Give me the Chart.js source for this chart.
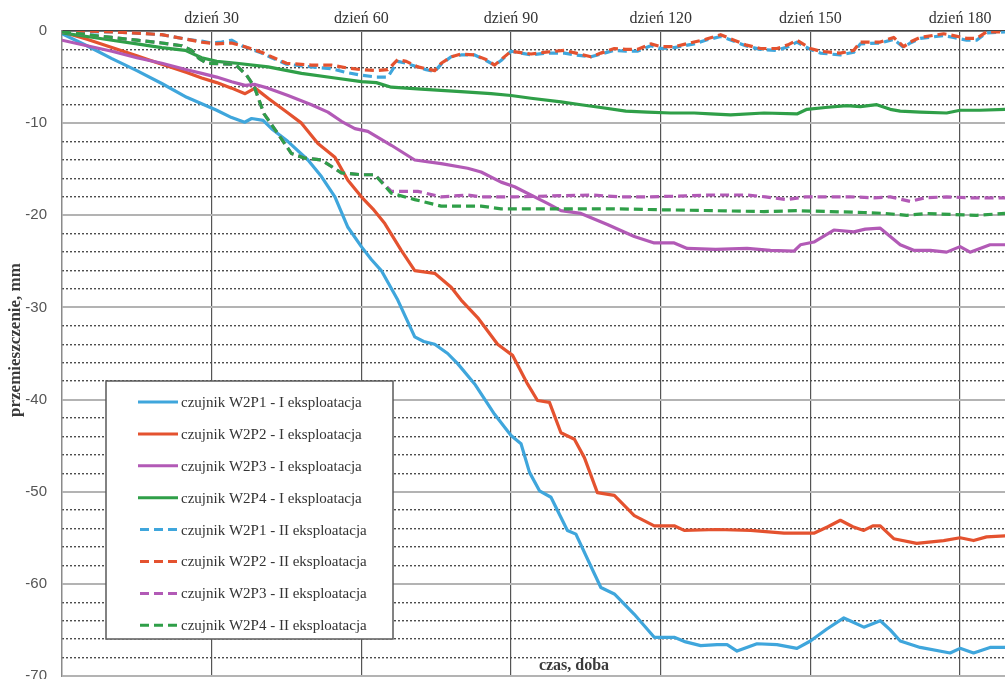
<!DOCTYPE html>
<html>
<head>
<meta charset="utf-8">
<script src="https://cdn.jsdelivr.net/npm/chart.js@4.4.0/dist/chart.umd.min.js"></script>
<style>
html,body{margin:0;padding:0;background:#fff;}
#wrap{position:relative;width:1005px;height:679px;}
</style>
</head>
<body>
<div id="wrap"><canvas id="c" width="1005" height="679"></canvas></div>
<script>
// ---------- DATA ----------
const dayTicks = [30, 60, 90, 120, 150, 180];
const yMajorTicks = [0, -10, -20, -30, -40, -50, -60, -70];
const xTitle = "czas, doba";
const yTitle = "przemieszczenie, mm";

const seriesLabels = [
  "czujnik W2P1 - I eksploatacja",
  "czujnik W2P2 - I eksploatacja",
  "czujnik W2P3 - I eksploatacja",
  "czujnik W2P4 - I eksploatacja",
  "czujnik W2P1 - II eksploatacja",
  "czujnik W2P2 - II eksploatacja",
  "czujnik W2P3 - II eksploatacja",
  "czujnik W2P4 - II eksploatacja"
];

const daysP1_I = [0,5,10,15,20,25,28,31,34,36.6,38,40.3,42,45.3,49.3,52,54.7,57.3,60,62,64,67.3,70.7,72.5,74.7,77.3,79.3,82.7,86.7,90,92,93.7,95.7,98,101.3,103,106.7,108,110.7,114.7,118.7,122.7,125,128,131.3,133.3,135.3,139.3,143.3,147.3,150,153.3,156.7,158.7,160.7,164,166,168,172,178,180,182.7,186,189];
const valsP1_I = [-0.3,-1.6,-3.0,-4.3,-5.7,-7.2,-7.9,-8.6,-9.4,-9.9,-9.5,-9.7,-10.6,-12.0,-14.0,-15.8,-18.0,-21.3,-23.4,-24.8,-26.0,-29.2,-33.2,-33.7,-34.0,-35.0,-36.1,-38.3,-41.6,-43.9,-44.8,-47.9,-49.9,-50.6,-54.2,-54.6,-58.9,-60.4,-61.1,-63.3,-65.8,-65.8,-66.3,-66.7,-66.6,-66.6,-67.3,-66.5,-66.6,-67.0,-66.2,-64.9,-63.7,-64.2,-64.7,-64.0,-65.0,-66.2,-66.9,-67.5,-67.0,-67.5,-66.9,-66.9];

const daysP2_I = [0,5,10,15,20,25,28,31,34,36.7,38.7,41.3,45.3,48,51.3,54.7,57.3,60,62.3,64.7,68,70.7,74.7,78,80,83.3,87.3,90.3,93.3,95.3,97.7,100,102.7,104.7,107.3,110.7,114.7,118.7,122.7,124.7,131.3,138,144.7,150.7,153.5,156,158.5,160.7,162.5,164,166.7,171.3,176.7,180,182.7,185.3,189];
const valsP2_I = [-0.1,-0.9,-1.8,-2.7,-3.6,-4.5,-5.1,-5.6,-6.2,-6.8,-6.2,-7.3,-8.9,-10.0,-12.2,-13.7,-16.2,-18.0,-19.3,-20.9,-23.8,-26.0,-26.3,-27.8,-29.2,-31.1,-34.0,-35.2,-38.3,-40.1,-40.3,-43.6,-44.3,-46.3,-50.1,-50.4,-52.6,-53.7,-53.7,-54.2,-54.1,-54.2,-54.5,-54.5,-53.8,-53.1,-53.8,-54.2,-53.7,-53.7,-55.1,-55.6,-55.3,-55.0,-55.3,-54.9,-54.8];

const daysP3_I = [0,5,10,15,20,25,28,31,34,36.7,38.7,41.3,45.3,50,53.3,56,58.7,61.3,66,70.7,76,81.3,84,88,90.7,97.3,100,104,109.3,114.7,118.7,122.7,125.3,131,137.3,142,146.7,148,150.7,154.7,158.7,161,164,168,170.7,174,177.3,180,182,186,189];
const valsP3_I = [-1.0,-1.6,-2.2,-2.9,-3.5,-4.2,-4.6,-5.0,-5.5,-5.9,-5.8,-6.2,-7.0,-8.0,-8.8,-9.8,-10.6,-10.9,-12.4,-14.0,-14.4,-14.9,-15.3,-16.4,-16.9,-18.7,-19.5,-19.8,-21.0,-22.3,-23.0,-23.0,-23.6,-23.7,-23.6,-23.8,-23.9,-23.2,-22.9,-21.6,-21.8,-21.5,-21.4,-23.2,-23.8,-23.8,-24.0,-23.4,-24.0,-23.2,-23.2];

const daysP4_I = [0,5,10,15,20,24.7,28,31,35,41.3,48,54.7,60,63,66,72,80.7,86,90,94,100,104,108,113,117.3,122,126.7,130,134,140.7,147.3,149.3,153,157.3,160,163.3,166,168,172,177.3,180,184,189];
const valsP4_I = [-0.2,-0.6,-1.0,-1.4,-1.8,-2.1,-2.9,-3.3,-3.5,-3.9,-4.6,-5.1,-5.5,-5.6,-6.1,-6.3,-6.6,-6.8,-7.0,-7.3,-7.7,-8.0,-8.3,-8.7,-8.8,-8.9,-8.9,-9.0,-9.1,-8.9,-9.0,-8.5,-8.3,-8.1,-8.2,-8.0,-8.5,-8.7,-8.8,-8.9,-8.6,-8.6,-8.5];

const daysP1_II = [0,5,10,14,20,25,28,30,32,34,36,40,42,45,50,54,57,60,63,65.3,67.3,69,71.3,73,74.7,76,78,80,82.7,85,86.7,88,90,94,97,100.7,103,106,108,110.7,113,115.3,118,120,122.7,126.7,129,132,134.7,137,140,143.3,145.5,147.3,150,152,156,158.7,160,164,166.7,168.7,170,172,176.7,178.7,181.3,183.3,185.3,189];
const valsP1_II = [-0.1,-0.1,-0.1,-0.2,-0.4,-0.9,-1.1,-1.3,-1.2,-1.0,-1.6,-2.4,-2.9,-3.6,-3.9,-4.1,-4.5,-4.8,-5.0,-5.0,-3.3,-3.5,-3.9,-4.2,-4.4,-3.6,-2.8,-2.6,-2.6,-3.2,-3.7,-3.2,-2.2,-2.6,-2.4,-2.4,-2.6,-2.8,-2.5,-2.1,-2.2,-2.2,-1.6,-1.9,-1.8,-1.4,-1.0,-0.6,-1.1,-1.6,-2.0,-2.1,-1.7,-1.2,-2.0,-2.4,-2.6,-2.3,-1.4,-1.3,-0.9,-1.8,-1.3,-0.8,-0.5,-0.7,-1.0,-1.0,-0.2,-0.1];

const daysP2_II = [0,5,10,14,20,25,28,31,34,36,40,42,45,50,54,57,60,63,65.3,67.3,69,71.3,73,74.7,76,78,80,82.7,85,86.7,88,90,94,97,100.7,103,106,108,110.7,113,115.3,118,120,122.7,126.7,129,132,134.7,137,140,143.3,145.5,147.3,150,152,156,158.7,160,164,166.7,168.7,170,172,176.7,178.7,181.3,183.3,185.3,189];
const valsP2_II = [-0.1,0,-0.1,-0.2,-0.4,-0.9,-1.2,-1.4,-1.3,-1.6,-2.3,-2.8,-3.5,-3.7,-3.7,-4.0,-4.2,-4.3,-4.2,-3.1,-3.3,-3.9,-4.1,-4.3,-3.5,-2.8,-2.5,-2.6,-3.1,-3.7,-3.1,-2.2,-2.5,-2.3,-2.1,-2.4,-2.8,-2.4,-1.9,-2.0,-2.0,-1.4,-1.7,-1.7,-1.2,-0.9,-0.4,-1.0,-1.5,-1.9,-1.9,-1.5,-1.0,-1.9,-2.2,-2.4,-2.1,-1.2,-1.2,-0.7,-1.7,-1.2,-0.7,-0.3,-0.5,-0.8,-0.8,-0.1,-0.1];

const daysP3_II = [0,5,10,15,20,24,26,27.5,29,34.7,37,38.5,40.5,42.7,46,48.7,52,56,60,62.7,66,71.3,76,81.3,84,90.7,98,106,112,117.3,125,130,137.3,141,145.3,149,154,158,162.7,166,170,173,177.3,182,189];
const valsP3_II = [-0.1,-0.4,-0.7,-1.0,-1.3,-1.6,-2.1,-3.0,-3.5,-3.6,-4.8,-6.0,-9.0,-10.7,-13.3,-13.8,-14.0,-15.4,-15.6,-15.6,-17.4,-17.4,-18.0,-17.8,-18.0,-18.0,-17.9,-17.8,-18.0,-18.0,-17.9,-17.8,-17.8,-18.0,-18.3,-18.0,-18.0,-18.0,-18.1,-18.0,-18.5,-18.1,-18.0,-18.1,-18.1];

const daysP4_II = [0,5,10,15,20,24,26,27.5,29,34.7,37,38.5,40.5,42.7,46,48.7,52,56,60,62.7,66,70.7,76,81.3,84,88,97.3,110.7,120,130.7,140.7,147.3,154,160.7,165,169.3,173.3,178,183.3,189];
const valsP4_II = [-0.1,-0.4,-0.7,-1.0,-1.3,-1.6,-2.1,-3.0,-3.5,-3.6,-4.8,-6.0,-9.0,-10.7,-13.3,-13.8,-14.0,-15.4,-15.6,-15.6,-17.6,-18.3,-19.0,-19.0,-19.0,-19.3,-19.3,-19.3,-19.4,-19.5,-19.6,-19.5,-19.6,-19.7,-19.8,-20.0,-19.8,-19.9,-20.0,-19.8];

// ---------- STYLE ----------
const BLUE = "#3fa6dc", RED = "#e4522f", PURPLE = "#b25ab6", GREEN = "#2f9f48";
const colors = [BLUE, RED, PURPLE, GREEN, BLUE, RED, PURPLE, GREEN];
const DASH = [9, 5];

function pts(d, v) { return d.map((x, i) => ({ x: x, y: v[i] })); }
const seriesData = [
  pts(daysP1_I, valsP1_I), pts(daysP2_I, valsP2_I), pts(daysP3_I, valsP3_I), pts(daysP4_I, valsP4_I),
  pts(daysP1_II, valsP1_II), pts(daysP2_II, valsP2_II), pts(daysP3_II, valsP3_II), pts(daysP4_II, valsP4_II)
];

const datasets = seriesData.map((data, i) => ({
  label: seriesLabels[i],
  data: data,
  borderColor: colors[i],
  backgroundColor: colors[i],
  borderWidth: 3.2,
  borderDash: i >= 4 ? DASH : [],
  borderCapStyle: i >= 4 ? 'butt' : 'round',
  borderJoinStyle: 'round',
  pointRadius: 0,
  tension: 0,
  fill: false,
  order: 8 - i
}));

const extras = {
  id: 'extras',
  afterDraw(chart) {
    const ctx = chart.ctx;
    ctx.save();
    // y title
    ctx.translate(16, 340);
    ctx.rotate(-Math.PI / 2);
    ctx.font = "bold 17px 'Liberation Serif'";
    ctx.fillStyle = "#3a3a3a";
    ctx.textAlign = "center";
    ctx.textBaseline = "middle";
    ctx.fillText(yTitle, 0, 0);
    ctx.restore();

    // x title
    ctx.save();
    ctx.font = "bold 16px 'Liberation Serif'";
    ctx.fillStyle = "#3a3a3a";
    ctx.textAlign = "center";
    ctx.textBaseline = "middle";
    ctx.fillText(xTitle, 574, 666);
    ctx.restore();

    // legend
    const bx = 106, by = 381, bw = 287, bh = 258;
    ctx.save();
    ctx.fillStyle = "#ffffff";
    ctx.fillRect(bx, by, bw, bh);
    ctx.strokeStyle = "#5a5a5a";
    ctx.lineWidth = 1.5;
    ctx.strokeRect(bx, by, bw, bh);
    ctx.font = "15px 'Liberation Serif'";
    ctx.textBaseline = "middle";
    ctx.textAlign = "left";
    chart.data.datasets.forEach((ds, i) => {
      const y = 402 + i * 31.9;
      ctx.beginPath();
      ctx.strokeStyle = ds.borderColor;
      ctx.lineWidth = 3;
      ctx.setLineDash(ds.borderDash || []);
      ctx.lineCap = 'butt';
      ctx.moveTo(i >= 4 ? 140 : 138, y);
      ctx.lineTo(178, y);
      ctx.stroke();
      ctx.setLineDash([]);
      ctx.fillStyle = "#333";
      ctx.fillText(ds.label, 181, y + 1);
    });
    ctx.restore();
  }
};

new Chart(document.getElementById('c'), {
  type: 'line',
  data: { datasets: datasets },
  options: {
    responsive: false,
    animation: false,
    devicePixelRatio: 1,
    layout: { padding: { left: 0, right: 0, top: 0, bottom: 3 } },
    plugins: { legend: { display: false }, tooltip: { enabled: false } },
    scales: {
      x: {
        type: 'linear',
        position: 'top',
        min: 0,
        max: 189,
        afterBuildTicks: s => { s.ticks = dayTicks.map(v => ({ value: v })); },
        ticks: {
          callback: v => 'dzień ' + v,
          font: { family: 'Liberation Serif', size: 16 },
          color: '#333',
          padding: 3,
          maxRotation: 0,
          autoSkip: false
        },
        grid: { color: '#555', lineWidth: 1.2, drawTicks: false },
        border: { color: '#444', width: 1.5 },
        afterFit: s => { s.height = 31; s.paddingLeft = 0; s.paddingRight = 0; }
      },
      yMinor: {
        type: 'linear',
        position: 'left',
        min: -70,
        max: 0,
        ticks: { stepSize: 2, display: false },
        grid: {
          color: c => (c.tick && Math.abs(c.tick.value % 10) < 1e-6) ? 'rgba(0,0,0,0)' : '#4d4d4d',
          lineWidth: 1.4,
          drawTicks: false
        },
        border: { display: false, dash: [2, 2] },
        afterFit: s => { s.width = 0; s.paddingTop = 0; s.paddingBottom = 0; }
      },
      y: {
        type: 'linear',
        position: 'left',
        min: -70,
        max: 0,
        afterBuildTicks: s => { s.ticks = yMajorTicks.map(v => ({ value: v })); },
        ticks: {
          font: { family: 'Liberation Sans', size: 15 },
          color: '#555',
          padding: 15
        },
        grid: { color: '#b3b3b3', lineWidth: 2, drawTicks: false },
        border: { color: '#8a8a8a', width: 1.5 },
        afterFit: s => { s.width = 62; s.paddingTop = 0; s.paddingBottom = 0; }
      }
    }
  },
  plugins: [extras]
});
</script>
</body>
</html>
